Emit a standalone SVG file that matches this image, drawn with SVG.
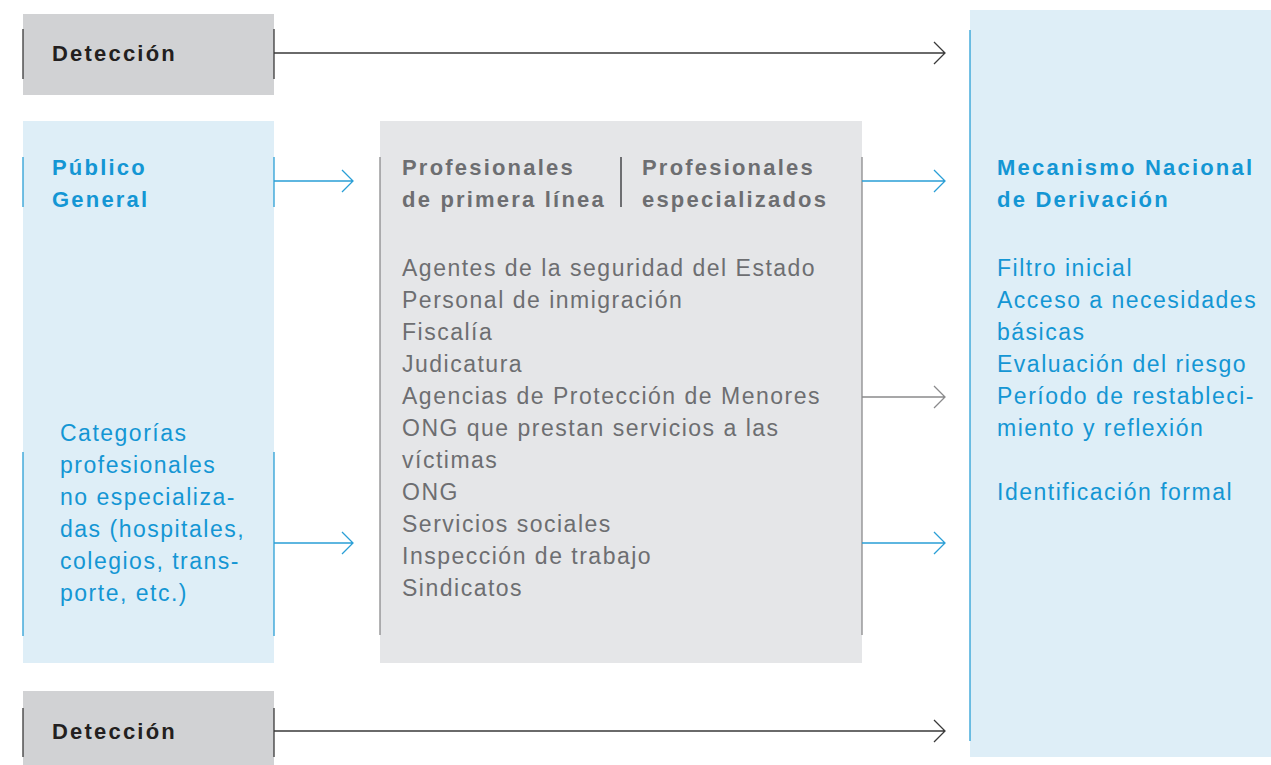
<svg xmlns="http://www.w3.org/2000/svg" width="1271" height="765" viewBox="0 0 1271 765">
<style>
.bold{font-family:"Liberation Sans",Arial,sans-serif;font-weight:bold;font-size:22px;letter-spacing:2.2px}
.reg{font-family:"Liberation Sans",Arial,sans-serif;font-size:23px;letter-spacing:1.5px}
.dark{fill:#231f20}
.blue{fill:#1496d4}
.gray{fill:#6d6e71}
.cb{stroke:#2a9fd6;stroke-width:1.3;fill:none}
.cd{stroke:#3a3a3a;stroke-width:1.3;fill:none}
.cg{stroke:#8a8a8c;stroke-width:1.3;fill:none}
</style>
<rect width="1271" height="765" fill="#ffffff"/>
<g id="deteccion-top">
<rect x="23" y="14" width="251" height="81" fill="#d1d2d4"/>
<line x1="23" y1="29" x2="23" y2="79" class="cd"/>
<line x1="274" y1="29" x2="274" y2="79" class="cd"/>
<text x="52" y="61" class="bold dark">Detección</text>
</g>
<g id="publico">
<rect x="23" y="121" width="251" height="542" fill="#deeef7"/>
<line x1="23" y1="157" x2="23" y2="207" class="cb"/>
<line x1="274" y1="157" x2="274" y2="207" class="cb"/>
<line x1="23" y1="452" x2="23" y2="636" class="cb"/>
<line x1="274" y1="452" x2="274" y2="636" class="cb"/>
<text class="bold blue"><tspan x="52" y="175">Público</tspan><tspan x="52" y="207">General</tspan></text>
<text class="reg blue"><tspan x="60" y="441">Categorías</tspan><tspan x="60" y="473">profesionales</tspan><tspan x="60" y="505">no especializa-</tspan><tspan x="60" y="537">das (hospitales,</tspan><tspan x="60" y="569">colegios, trans-</tspan><tspan x="60" y="601">porte, etc.)</tspan></text>
</g>
<g id="profesionales">
<rect x="380" y="121" width="482" height="542" fill="#e5e6e8"/>
<line x1="380" y1="157" x2="380" y2="635" class="cg"/>
<line x1="862" y1="157" x2="862" y2="635" class="cg"/>
<line x1="621" y1="157" x2="621" y2="207" stroke="#6d6e71" stroke-width="2"/>
<text class="bold gray"><tspan x="402" y="175">Profesionales</tspan><tspan x="402" y="207">de primera línea</tspan></text>
<text class="bold gray"><tspan x="642" y="175">Profesionales</tspan><tspan x="642" y="207">especializados</tspan></text>
<text class="reg gray"><tspan x="402" y="276">Agentes de la seguridad del Estado</tspan><tspan x="402" y="308">Personal de inmigración</tspan><tspan x="402" y="340">Fiscalía</tspan><tspan x="402" y="372">Judicatura</tspan><tspan x="402" y="404">Agencias de Protección de Menores</tspan><tspan x="402" y="436">ONG que prestan servicios a las</tspan><tspan x="402" y="468">víctimas</tspan><tspan x="402" y="500">ONG</tspan><tspan x="402" y="532">Servicios sociales</tspan><tspan x="402" y="564">Inspección de trabajo</tspan><tspan x="402" y="596">Sindicatos</tspan></text>
</g>
<g id="mecanismo">
<rect x="970" y="10" width="301" height="747" fill="#deeef7"/>
<line x1="970" y1="30" x2="970" y2="741" class="cb"/>
<text class="bold blue"><tspan x="997" y="175">Mecanismo Nacional</tspan><tspan x="997" y="207">de Derivación</tspan></text>
<text class="reg blue"><tspan x="997" y="276">Filtro inicial</tspan><tspan x="997" y="308">Acceso a necesidades</tspan><tspan x="997" y="340">básicas</tspan><tspan x="997" y="372">Evaluación del riesgo</tspan><tspan x="997" y="404">Período de restableci-</tspan><tspan x="997" y="436">miento y reflexión</tspan><tspan x="997" y="500">Identificación formal</tspan></text>
</g>
<g id="deteccion-bottom">
<rect x="23" y="691" width="251" height="74" fill="#d1d2d4"/>
<line x1="23" y1="708" x2="23" y2="757" class="cd"/>
<line x1="274" y1="708" x2="274" y2="757" class="cd"/>
<text x="52" y="739" class="bold dark">Detección</text>
</g>
<g id="connectors">
<path d="M274 53H945M934 42L945 53L934 64" class="cd"/>
<path d="M274 181H353M342 170L353 181L342 192" class="cb"/>
<path d="M274 543H353M342 532L353 543L342 554" class="cb"/>
<path d="M862 181H945M934 170L945 181L934 192" class="cb"/>
<path d="M862 397H945M934 386L945 397L934 408" class="cg"/>
<path d="M862 543H945M934 532L945 543L934 554" class="cb"/>
<path d="M274 731H945M934 720L945 731L934 742" class="cd"/>
</g>
</svg>
